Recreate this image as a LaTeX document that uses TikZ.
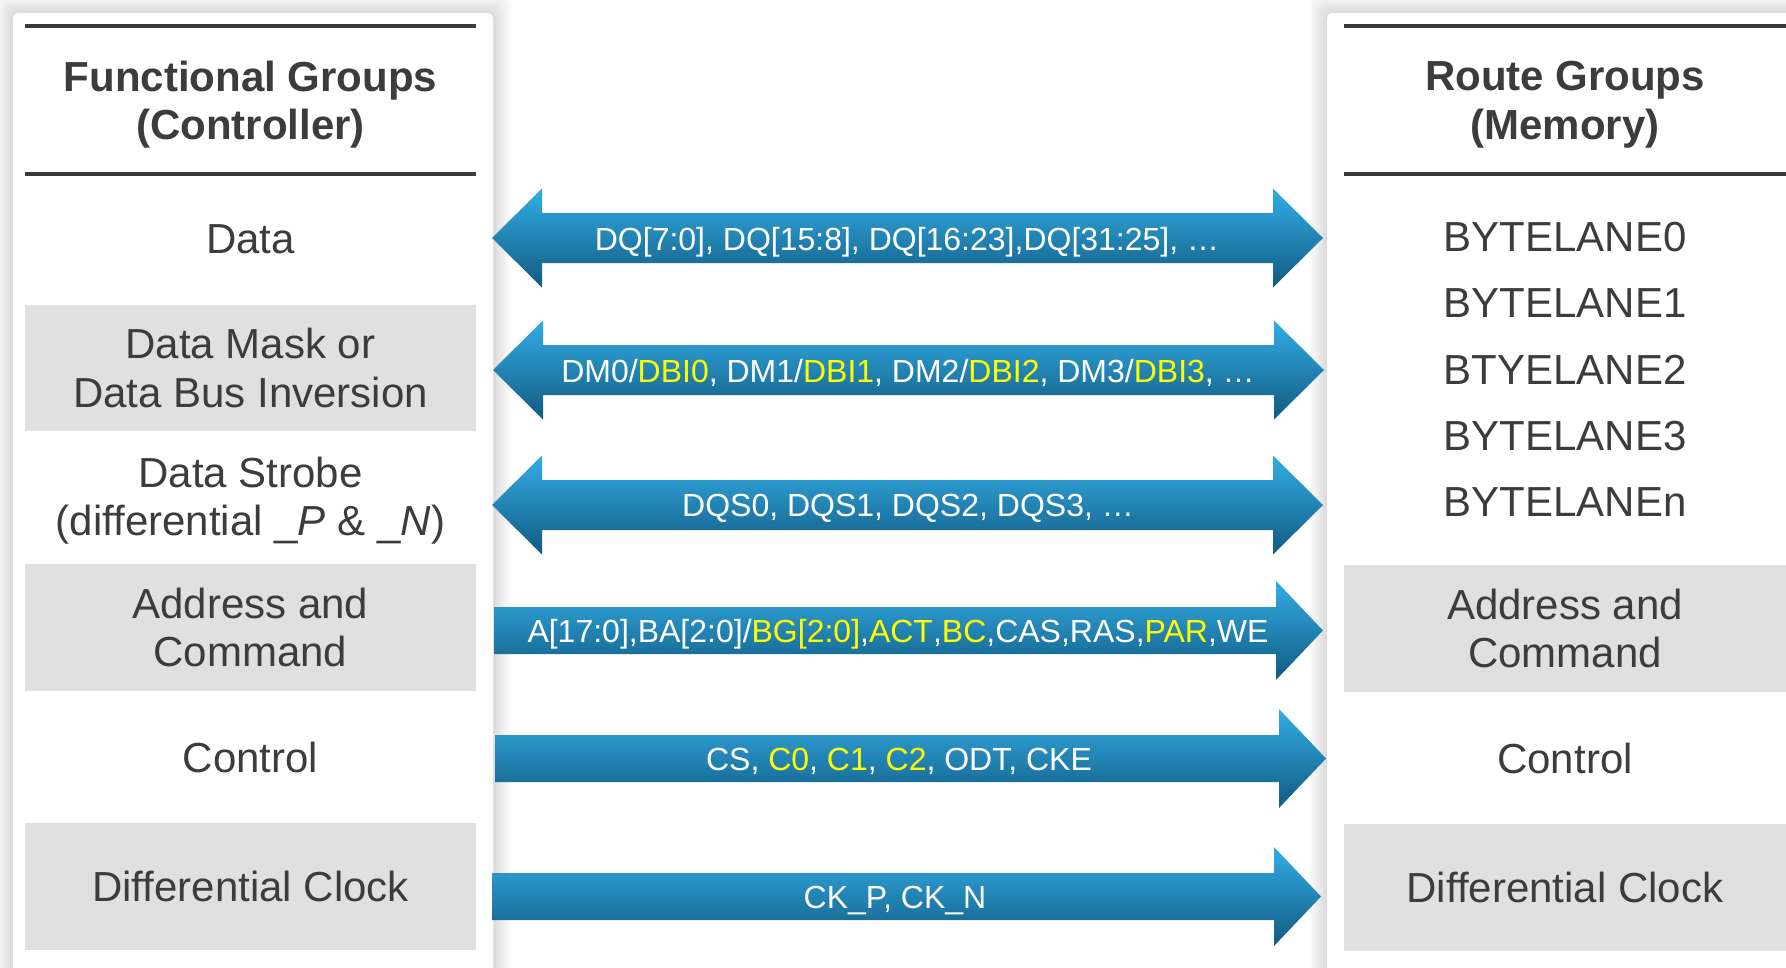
\documentclass[tikz,border=0pt]{standalone}
\usepackage{fontspec}
\setmainfont{Liberation Sans}
\usetikzlibrary{calc}

\definecolor{inkgray}{HTML}{3C3C3C}
\definecolor{rulegray}{HTML}{3A3A3A}
\definecolor{bandgray}{HTML}{E0E0E0}
\definecolor{hiyellow}{HTML}{FFFF00}
\definecolor{busTop}{HTML}{33ADE6}
\definecolor{busMid}{HTML}{1E8FC6}
\definecolor{busBot}{HTML}{115A80}

\newcommand\rowfont{\fontsize{42}{48.5}\selectfont}
\newcommand\headfont{\bfseries\fontsize{42}{48.5}\selectfont}
\newcommand\lanefont{\fontsize{42}{66.25}\selectfont}
\newcommand\busfont{\fontsize{32}{36}\selectfont}
\newcommand\hl[1]{\textcolor{hiyellow}{#1}}

% soft shadow behind a panel: stacked translucent rounded rectangles
\newcommand\panelshadow[4]{%
  \foreach \s in {1,...,12}{%
    \fill[black, opacity=0.012, rounded corners=8pt]
      (#1-1.5*\s, #2-1.5*\s) rectangle (#3+1.5*\s, #4+1.5*\s);}}

% bidirectional bus arrow between two tip coordinates
\newcommand\twoway[2]{%
  \path[busfill] (#1) -- ([shift={(50,-49.5)}]#1) -- ([shift={(50,-25)}]#1)
    -- ([shift={(-50,-25)}]#2) -- ([shift={(-50,-49.5)}]#2) -- (#2)
    -- ([shift={(-50,49.5)}]#2) -- ([shift={(-50,25)}]#2)
    -- ([shift={(50,25)}]#1) -- ([shift={(50,49.5)}]#1) -- cycle;}

% one-way bus arrow from a tail coordinate to a tip coordinate
\newcommand\oneway[2]{%
  \path[busfill] ([shift={(0,-23.5)}]#1) -- ([shift={(-47,-23.5)}]#2)
    -- ([shift={(-47,-49.5)}]#2) -- (#2) -- ([shift={(-47,49.5)}]#2)
    -- ([shift={(-47,23.5)}]#2) -- ([shift={(0,23.5)}]#1) -- cycle;}

\tikzset{
  rowtxt/.style={font=\rowfont, text=inkgray, align=center, inner sep=0pt,
                 minimum width=451pt},
  band/.style={rowtxt, fill=bandgray},
  headtxt/.style={font=\headfont, text=inkgray, align=center, inner sep=0pt},
  rule/.style={line width=4pt, draw=rulegray},
  panel/.style={fill=white, rounded corners=5pt},
  busfill/.style={top color=busTop, middle color=busMid, bottom color=busBot, draw=none},
  buslabel/.style={font=\busfont, text=white, inner sep=0pt,
                   text height=23pt, text depth=0pt},
}

\begin{document}
\begin{tikzpicture}[x=1pt, y=-1pt]
\useasboundingbox (0,0) rectangle (1786,967);
\clip (0,0) rectangle (1786,967);

% panels with shadows
\panelshadow{13}{13}{493}{990}
\panelshadow{1327}{13}{1810}{990}
\fill[panel] (13,13) rectangle (493,990);
\fill[panel] (1327,13) rectangle (1810,990);

% controller side
\draw[rule] (25,26) -- (476,26);
\draw[rule] (25,174) -- (476,174);
\node[headtxt] (lHead) at (250.5,104.5) {Functional Groups\\(Controller)};
\node[rowtxt, minimum height=131pt] (lData) at (250.5,239.5) {Data};
\node[band, minimum height=126pt] (lMask) at (250.5,368) {Data Mask or\\Data Bus Inversion};
\node[rowtxt, minimum height=133pt] (lStrobe) at (250.5,500.5) {Data Strobe\\(differential \_\textit{P} \& \_\textit{N})};
\node[band, minimum height=127pt] (lAddr) at (250.5,627.5) {Address and\\Command};
\node[rowtxt, minimum height=132pt] (lCtrl) at (250.5,757) {Control};
\node[band, minimum height=127pt] (lClk) at (250.5,886.5) {Differential Clock};

% memory side
\draw[rule] (1344,26) -- (1786,26);
\draw[rule] (1344,174) -- (1786,174);
\node[headtxt] (rHead) at (1565,104.5) {Route Groups\\(Memory)};
\node[rowtxt, font=\lanefont] (rLanes) at (1565,369.5)
  {BYTELANE0\\BYTELANE1\\BTYELANE2\\BYTELANE3\\BYTELANEn};
\node[band, minimum width=442pt, minimum height=127pt] (rAddr) at (1565,628.5) {Address and\\Command};
\node[rowtxt, minimum width=442pt, minimum height=132pt] (rCtrl) at (1565,758) {Control};
\node[band, minimum width=442pt, minimum height=127pt] (rClk) at (1565,887.5) {Differential Clock};

% bus arrow end points
\coordinate (a1L) at (492,238);   \coordinate (a1R) at (1323,238);
\coordinate (a2L) at (493,370);   \coordinate (a2R) at (1324,370);
\coordinate (a3L) at (492,505);   \coordinate (a3R) at (1323,505);
\coordinate (a4L) at (494,630.5); \coordinate (a4R) at (1323,630.5);
\coordinate (a5L) at (495,758.5); \coordinate (a5R) at (1326,758.5);
\coordinate (a6L) at (492,896.5); \coordinate (a6R) at (1321,896.5);

\twoway{a1L}{a1R}
\twoway{a2L}{a2R}
\twoway{a3L}{a3R}
\oneway{a4L}{a4R}
\oneway{a5L}{a5R}
\oneway{a6L}{a6R}

% signal lists
\node[buslabel] (t1) at (907,239) {DQ[7:0], DQ[15:8], DQ[16:23],DQ[31:25], …};
\node[buslabel] (t2) at (908,371) {DM0/\hl{DBI0}, DM1/\hl{DBI1}, DM2/\hl{DBI2}, DM3/\hl{DBI3}, …};
\node[buslabel] (t3) at (908,505) {DQS0, DQS1, DQS2, DQS3, …};
\node[buslabel] (t4) at (898,631) {A[17:0],BA[2:0]/\hl{BG[2:0]},\hl{ACT},\hl{BC},CAS,RAS,\hl{PAR},WE};
\node[buslabel] (t5) at (899,759) {CS, \hl{C0}, \hl{C1}, \hl{C2}, ODT, CKE};
\node[buslabel] (t6) at (895,897) {CK\_P, CK\_N};
\end{tikzpicture}
\end{document}
